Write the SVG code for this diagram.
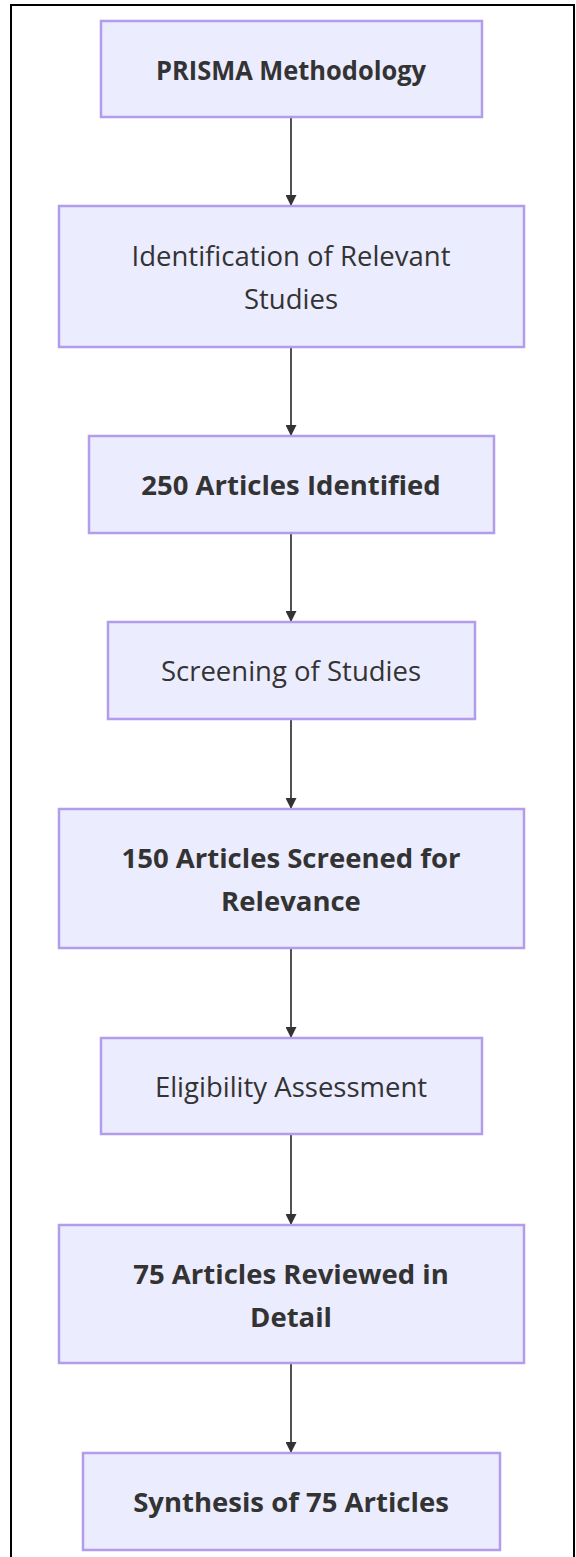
<svg xmlns="http://www.w3.org/2000/svg" width="576" height="1557" viewBox="0 0 576 1557">
<defs>
<style>
.node rect{fill:#ECECFF;stroke:#B39DEB;stroke-width:2.5}
.node text{font-family:"Open Sans","DejaVu Sans",sans-serif;font-size:27.5px;fill:#333;text-anchor:middle;dominant-baseline:central}
.node text.b{font-weight:bold}
.edge{stroke:#333;stroke-width:1.7;fill:none;marker-end:url(#arrow)}
</style>
<marker id="arrow" viewBox="0 0 10 10" refX="10" refY="5" markerWidth="11" markerHeight="11" markerUnits="userSpaceOnUse" orient="auto">
<path d="M0,0 L10,5 L0,10 z" fill="#333"/>
</marker>
</defs>
<rect width="576" height="1557" fill="#fff"/>
<path d="M11,1557 V5 H574 V1557" fill="none" stroke="#000" stroke-width="2"/>
<g id="edges">
<line class="edge" x1="291" y1="117" x2="291" y2="206"/>
<line class="edge" x1="291" y1="347" x2="291" y2="436"/>
<line class="edge" x1="291" y1="533" x2="291" y2="622"/>
<line class="edge" x1="291" y1="719" x2="291" y2="809"/>
<line class="edge" x1="291" y1="948" x2="291" y2="1038"/>
<line class="edge" x1="291" y1="1134" x2="291" y2="1225"/>
<line class="edge" x1="291" y1="1363" x2="291" y2="1453"/>
</g>
<g id="n1" class="node"><rect x="101" y="21" width="381" height="96"/><text class="b" x="291" y="69" textLength="270" lengthAdjust="spacingAndGlyphs">PRISMA Methodology</text></g>
<g id="n2" class="node"><rect x="59" y="206" width="465" height="141"/><text x="291" y="255">Identification of Relevant</text><text x="291" y="298">Studies</text></g>
<g id="n3" class="node"><rect x="89" y="436" width="405" height="97"/><text class="b" x="291" y="484">250 Articles Identified</text></g>
<g id="n4" class="node"><rect x="108" y="622" width="367" height="97"/><text x="291" y="670">Screening of Studies</text></g>
<g id="n5" class="node"><rect x="59" y="809" width="465" height="139"/><text class="b" x="291" y="857">150 Articles Screened for</text><text x="291" y="900" class="b">Relevance</text></g>
<g id="n6" class="node"><rect x="101" y="1038" width="381" height="96"/><text x="291" y="1086">Eligibility Assessment</text></g>
<g id="n7" class="node"><rect x="59" y="1225" width="465" height="138"/><text class="b" x="291" y="1273">75 Articles Reviewed in</text><text x="291" y="1316" class="b">Detail</text></g>
<g id="n8" class="node"><rect x="83" y="1453" width="417" height="97"/><text class="b" x="291" y="1501">Synthesis of 75 Articles</text></g>
</svg>
